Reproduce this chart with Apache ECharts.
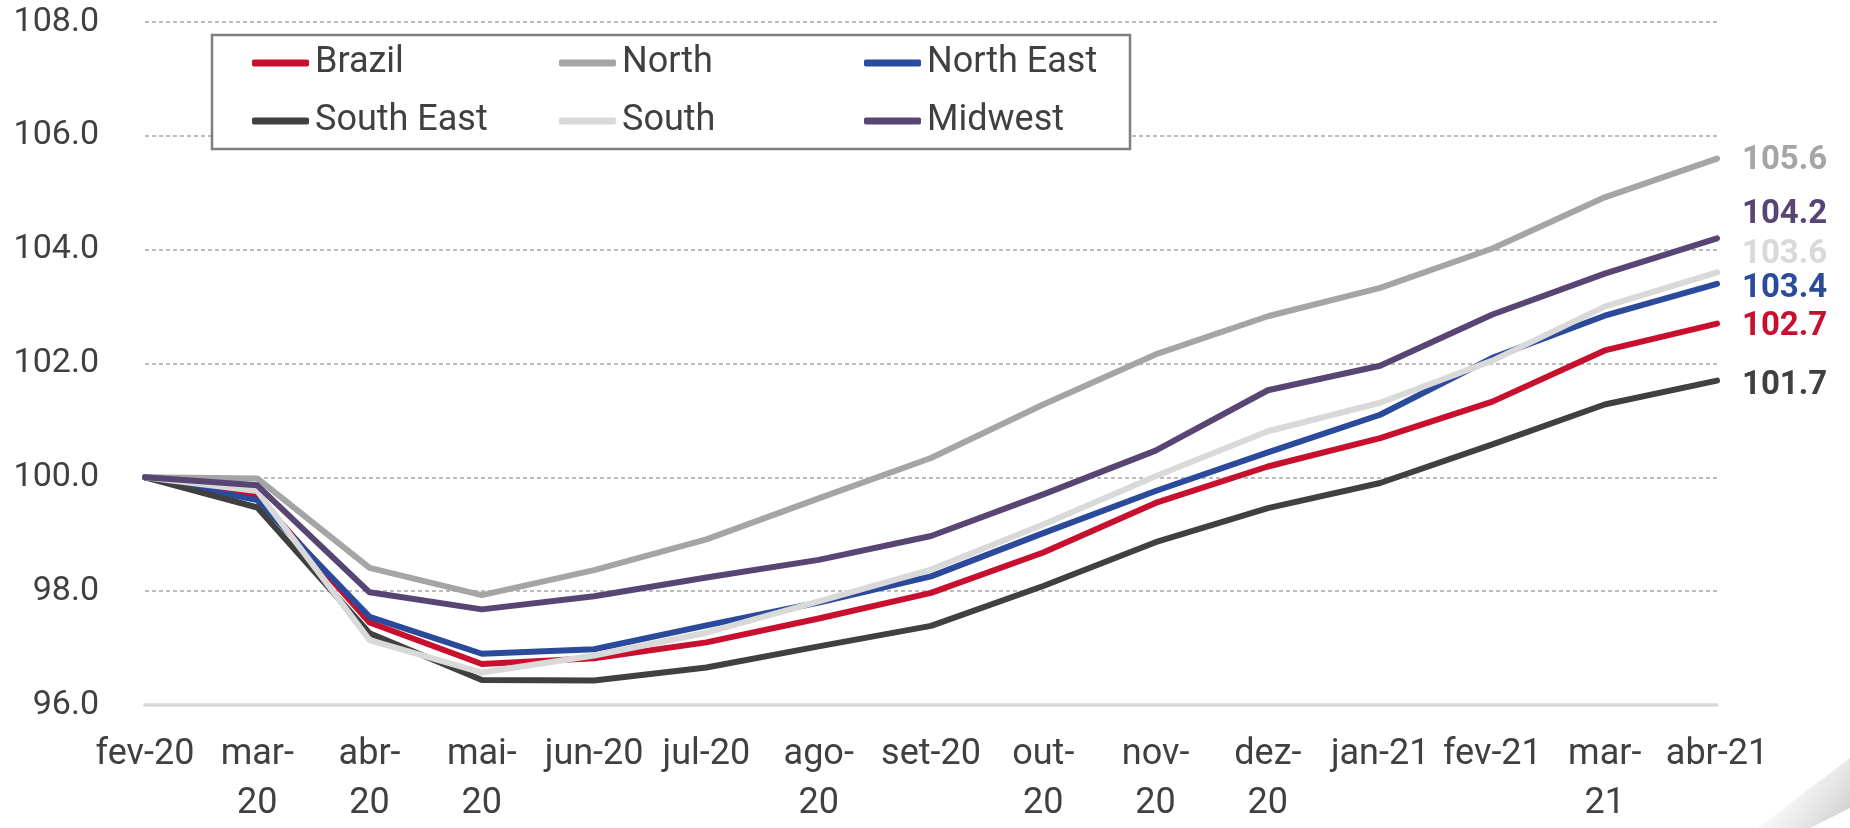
<!DOCTYPE html>
<html>
<head>
<meta charset="utf-8">
<title>Regional index, fev-20 = 100</title>
<script src="https://cdn.jsdelivr.net/npm/echarts@6/dist/echarts.min.js"></script>
<style>
  html, body { margin: 0; padding: 0; background: #ffffff; }
  #chart { width: 1850px; height: 828px; }
</style>
</head>
<body>
<div id="chart"></div>
<script>
// Months on the category axis
const categories = ['fev-20', 'mar-20', 'abr-20', 'mai-20', 'jun-20', 'jul-20', 'ago-20', 'set-20',
  'out-20', 'nov-20', 'dez-20', 'jan-21', 'fev-21', 'mar-21', 'abr-21'];

// Tick labels as printed (long ones wrap after the hyphen)
const tickLabels = ['fev-20', 'mar-\n20', 'abr-\n20', 'mai-\n20', 'jun-20', 'jul-20', 'ago-\n20', 'set-20',
  'out-\n20', 'nov-\n20', 'dez-\n20', 'jan-21', 'fev-21', 'mar-\n21', 'abr-21'];

// Index values by region (fev-20 = 100)
const brazil    = [100.0, 99.67, 97.45, 96.72, 96.82, 97.10, 97.52, 97.97, 98.68, 99.55, 100.19, 100.69, 101.33, 102.23, 102.7];
const north     = [100.0, 99.98, 98.41, 97.93, 98.37, 98.91, 99.63, 100.34, 101.28, 102.16, 102.83, 103.33, 104.02, 104.92, 105.6];
const northEast = [100.0, 99.60, 97.55, 96.90, 96.98, 97.40, 97.80, 98.26, 99.02, 99.76, 100.44, 101.10, 102.10, 102.84, 103.4];
const southEast = [100.0, 99.47, 97.26, 96.44, 96.43, 96.66, 97.03, 97.39, 98.09, 98.86, 99.46, 99.90, 100.58, 101.28, 101.7];
const south     = [100.0, 99.76, 97.14, 96.57, 96.87, 97.27, 97.82, 98.38, 99.17, 100.02, 100.81, 101.31, 102.05, 103.00, 103.6];
const midwest   = [100.0, 99.86, 97.98, 97.68, 97.91, 98.24, 98.55, 98.97, 99.70, 100.47, 101.53, 101.96, 102.86, 103.58, 104.2];

// Y axis ticks
const yMin = 96, yMax = 108, yStep = 2;

const seriesDefs = [
  { name: 'Brazil',     data: brazil,    color: '#C8102E', labelDy: 3 },
  { name: 'North',      data: north,     color: '#A5A5A5', labelDy: 2 },
  { name: 'North East', data: northEast, color: '#2B4A9C', labelDy: 5 },
  { name: 'South East', data: southEast, color: '#404040', labelDy: 5 },
  { name: 'South',      data: south,     color: '#D9D9D9', labelDy: -18 },
  { name: 'Midwest',    data: midwest,   color: '#584573', labelDy: -24 }
];

const FONT = 'Roboto, "Liberation Sans", sans-serif';
const TEXT = '#404040';

const legendCommon = {
  orient: 'vertical',
  top: 43,
  padding: 0,
  itemWidth: 57,
  itemHeight: 7,
  itemGap: 18,
  icon: 'roundRect',
  selectedMode: false,
  z: 10,
  textStyle: { fontFamily: FONT, fontSize: 36, color: TEXT, lineHeight: 40, padding: [0, 0, 0, 1] }
};

const chart = echarts.init(document.getElementById('chart'), null, { renderer: 'canvas' });

chart.setOption({
  animation: false,
  backgroundColor: '#ffffff',
  grid: { left: 145, right: 133, top: 22, bottom: 115, containLabel: false },
  legend: [
    Object.assign({}, legendCommon, { left: 252, data: ['Brazil', 'South East'] }),
    Object.assign({}, legendCommon, { left: 559, data: ['North', 'South'] }),
    Object.assign({}, legendCommon, { left: 864, data: ['North East', 'Midwest'] })
  ],
  graphic: [
    {
      type: 'rect',
      z: 5,
      shape: { x: 212, y: 35, width: 918, height: 114 },
      style: { fill: '#ffffff', stroke: '#7F7F7F', lineWidth: 2.5 }
    },
    {
      // curled page corner shading
      type: 'polygon',
      z: 1,
      silent: true,
      shape: { points: [[1758, 828], [1850, 758], [1850, 808], [1810, 828]] },
      style: {
        fill: {
          type: 'linear', x: 0, y: 0, x2: 1, y2: 1,
          colorStops: [
            { offset: 0, color: 'rgba(255,255,255,0)' },
            { offset: 0.55, color: 'rgba(215,215,215,0.45)' },
            { offset: 1, color: 'rgba(190,190,190,0.85)' }
          ]
        }
      }
    }
  ],
  xAxis: {
    type: 'category',
    data: categories,
    boundaryGap: false,
    axisLine: { show: true, lineStyle: { color: '#D9D9D9', width: 3.5 } },
    axisTick: { show: false },
    splitLine: { show: false },
    axisLabel: {
      interval: 0,
      margin: 25,
      fontFamily: FONT,
      fontSize: 36,
      lineHeight: 49,
      color: TEXT,
      formatter: (v, i) => tickLabels[i]
    }
  },
  yAxis: {
    type: 'value',
    min: yMin,
    max: yMax,
    interval: yStep,
    axisLine: { show: false },
    axisTick: { show: false },
    axisLabel: {
      margin: 46,
      fontFamily: FONT,
      fontSize: 34,
      color: TEXT,
      formatter: v => v.toFixed(1)
    },
    splitLine: { show: true, lineStyle: { color: '#A6A6A6', width: 1.5, type: [4, 3] } }
  },
  series: seriesDefs.map(s => ({
    name: s.name,
    type: 'line',
    data: s.data,
    showSymbol: false,
    symbol: 'none',
    color: s.color,
    lineStyle: { color: s.color, width: 6, cap: 'round', join: 'round' },
    itemStyle: { color: s.color },
    endLabel: {
      show: true,
      distance: 25,
      offset: [0, s.labelDy],
      fontFamily: FONT,
      fontSize: 33,
      fontWeight: 'bold',
      color: s.color,
      formatter: p => Number(p.value).toFixed(1)
    },
    emphasis: { disabled: true }
  }))
});
</script>
</body>
</html>
